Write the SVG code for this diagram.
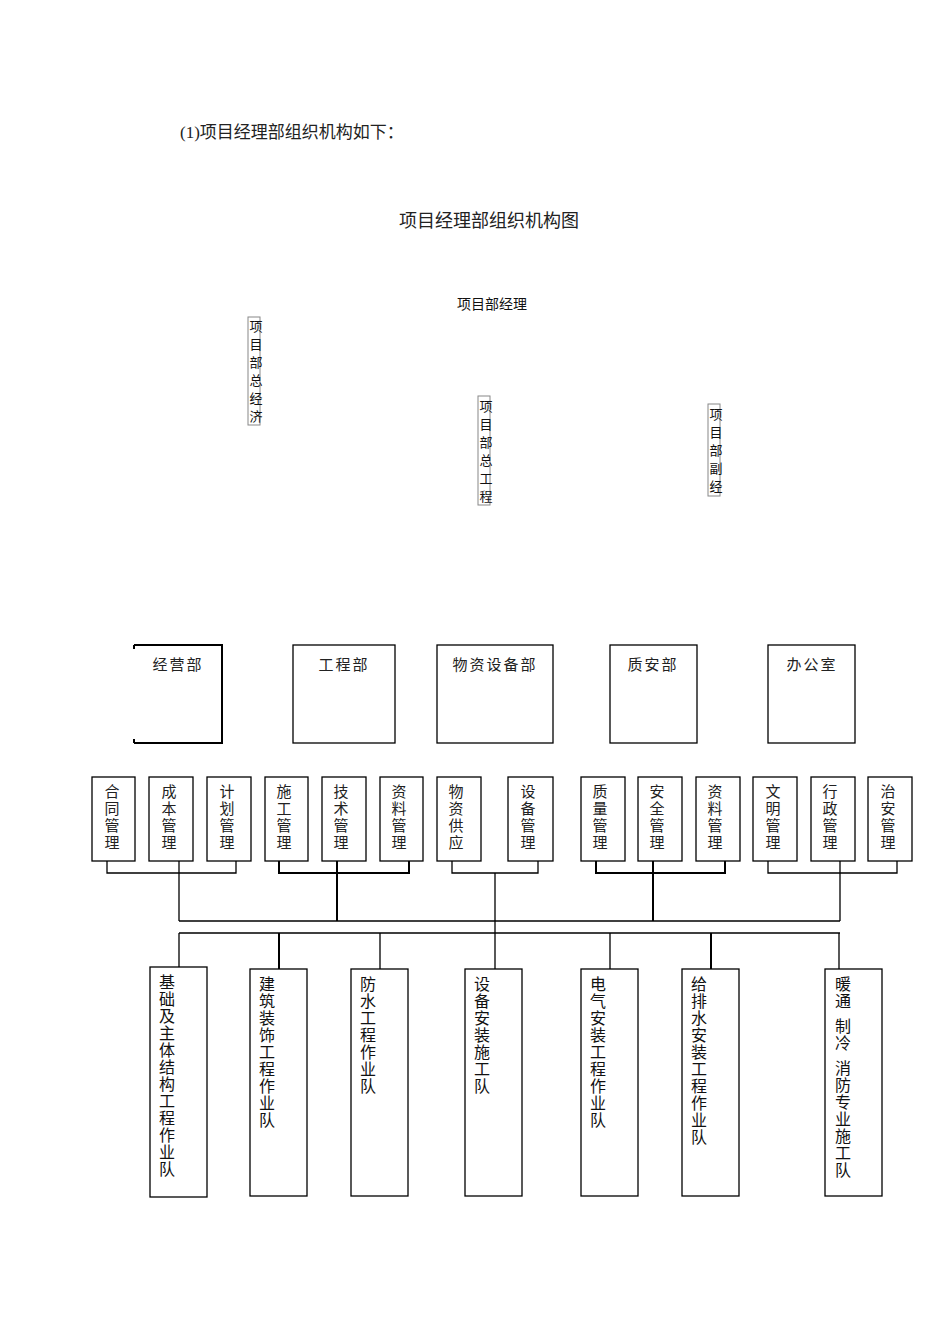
<svg xmlns="http://www.w3.org/2000/svg" width="950" height="1344" viewBox="0 0 950 1344">
<style>
.b{fill:#fff;stroke:#000;stroke-width:1.3}
.t{fill:none;stroke:#888;stroke-width:1}
.l{fill:none;stroke:#000;stroke-width:1.3}
.s{font-family:"Liberation Serif","Noto Sans CJK SC",serif;fill:#222}
.n{font-family:"Noto Sans CJK SC",sans-serif;fill:#111}
.sub{font-family:"Liberation Serif","Noto Sans CJK SC",serif;font-size:15px;fill:#222;text-anchor:middle}
.bot{font-family:"Noto Sans CJK SC",sans-serif;font-size:16px;fill:#111}
.sm{font-family:"Noto Sans CJK SC",sans-serif;font-size:13px;fill:#111;text-anchor:middle}
</style>
<rect width="950" height="1344" fill="#fff"/>
<text class="s" x="180" y="138" font-size="17">(1)项目经理部组织机构如下：</text>
<text class="s" x="489" y="227" font-size="18" text-anchor="middle">项目经理部组织机构图</text>
<text class="n" x="492" y="309" font-size="14" text-anchor="middle">项目部经理</text>

<g id="n-jingji"><rect class="t" x="248" y="317" width="12" height="108"/><text class="sm"><tspan x="256" y="331">项</tspan><tspan x="256" dy="18">目</tspan><tspan x="256" dy="18">部</tspan><tspan x="256" dy="18">总</tspan><tspan x="256" dy="18">经</tspan><tspan x="256" dy="18">济</tspan></text></g>
<g id="n-zonggong"><rect class="t" x="478" y="396" width="12" height="109"/><text class="sm"><tspan x="486" y="411">项</tspan><tspan x="486" dy="18">目</tspan><tspan x="486" dy="18">部</tspan><tspan x="486" dy="18">总</tspan><tspan x="486" dy="18">工</tspan><tspan x="486" dy="18">程</tspan></text></g>
<g id="n-fujingli"><rect class="t" x="708" y="404" width="12" height="92"/><text class="sm"><tspan x="716" y="419">项</tspan><tspan x="716" dy="18">目</tspan><tspan x="716" dy="18">部</tspan><tspan x="716" dy="18">副</tspan><tspan x="716" dy="18">经</tspan></text></g>

<g id="d-jingying"><path d="M134 645H222V743H134" fill="#fff" stroke="#000" stroke-width="2"/><path d="M134 645v4M134 743v-4" stroke="#000" stroke-width="2"/><text class="s" x="178" y="670" font-size="15" text-anchor="middle" letter-spacing="2">经营部</text></g>
<g id="d-gongcheng"><rect class="b" x="293" y="645" width="102" height="98"/><text class="s" x="344" y="670" font-size="15" text-anchor="middle" letter-spacing="2">工程部</text></g>
<g id="d-wuzi"><rect class="b" x="437" y="645" width="116" height="98"/><text class="s" x="495" y="670" font-size="15" text-anchor="middle" letter-spacing="2">物资设备部</text></g>
<g id="d-zhian"><rect class="b" x="610" y="645" width="87" height="98"/><text class="s" x="653" y="670" font-size="15" text-anchor="middle" letter-spacing="2">质安部</text></g>
<g id="d-bangong"><rect class="b" x="768" y="645" width="87" height="98" stroke-width="2"/><text class="s" x="812" y="670" font-size="15" text-anchor="middle" letter-spacing="2">办公室</text></g>

<g id="subs">
<g id="s1"><rect class="b" x="92" y="777" width="43" height="84"/><text class="sub"><tspan x="112" y="797">合</tspan><tspan x="112" dy="17">同</tspan><tspan x="112" dy="17">管</tspan><tspan x="112" dy="17">理</tspan></text></g>
<g id="s2"><rect class="b" x="149" y="777" width="44" height="84"/><text class="sub"><tspan x="169" y="797">成</tspan><tspan x="169" dy="17">本</tspan><tspan x="169" dy="17">管</tspan><tspan x="169" dy="17">理</tspan></text></g>
<g id="s3"><rect class="b" x="207" y="777" width="44" height="84"/><text class="sub"><tspan x="227" y="797">计</tspan><tspan x="227" dy="17">划</tspan><tspan x="227" dy="17">管</tspan><tspan x="227" dy="17">理</tspan></text></g>
<g id="s4"><rect class="b" x="265" y="777" width="43" height="84"/><text class="sub"><tspan x="284" y="797">施</tspan><tspan x="284" dy="17">工</tspan><tspan x="284" dy="17">管</tspan><tspan x="284" dy="17">理</tspan></text></g>
<g id="s5"><rect class="b" x="322" y="777" width="44" height="84"/><text class="sub"><tspan x="341" y="797">技</tspan><tspan x="341" dy="17">术</tspan><tspan x="341" dy="17">管</tspan><tspan x="341" dy="17">理</tspan></text></g>
<g id="s6"><rect class="b" x="380" y="777" width="43" height="84"/><text class="sub"><tspan x="399" y="797">资</tspan><tspan x="399" dy="17">料</tspan><tspan x="399" dy="17">管</tspan><tspan x="399" dy="17">理</tspan></text></g>
<g id="s7"><rect class="b" x="437" y="777" width="44" height="84"/><text class="sub"><tspan x="456" y="797">物</tspan><tspan x="456" dy="17">资</tspan><tspan x="456" dy="17">供</tspan><tspan x="456" dy="17">应</tspan></text></g>
<g id="s8"><rect class="b" x="508" y="777" width="45" height="84"/><text class="sub"><tspan x="528" y="797">设</tspan><tspan x="528" dy="17">备</tspan><tspan x="528" dy="17">管</tspan><tspan x="528" dy="17">理</tspan></text></g>
<g id="s9"><rect class="b" x="581" y="777" width="44" height="84"/><text class="sub"><tspan x="600" y="797">质</tspan><tspan x="600" dy="17">量</tspan><tspan x="600" dy="17">管</tspan><tspan x="600" dy="17">理</tspan></text></g>
<g id="s10"><rect class="b" x="638" y="777" width="44" height="84"/><text class="sub"><tspan x="657" y="797">安</tspan><tspan x="657" dy="17">全</tspan><tspan x="657" dy="17">管</tspan><tspan x="657" dy="17">理</tspan></text></g>
<g id="s11"><rect class="b" x="696" y="777" width="44" height="84"/><text class="sub"><tspan x="715" y="797">资</tspan><tspan x="715" dy="17">料</tspan><tspan x="715" dy="17">管</tspan><tspan x="715" dy="17">理</tspan></text></g>
<g id="s12"><rect class="b" x="753" y="777" width="44" height="84"/><text class="sub"><tspan x="773" y="797">文</tspan><tspan x="773" dy="17">明</tspan><tspan x="773" dy="17">管</tspan><tspan x="773" dy="17">理</tspan></text></g>
<g id="s13"><rect class="b" x="811" y="777" width="44" height="84"/><text class="sub"><tspan x="830" y="797">行</tspan><tspan x="830" dy="17">政</tspan><tspan x="830" dy="17">管</tspan><tspan x="830" dy="17">理</tspan></text></g>
<g id="s14"><rect class="b" x="868" y="777" width="44" height="84"/><text class="sub"><tspan x="888" y="797">治</tspan><tspan x="888" dy="17">安</tspan><tspan x="888" dy="17">管</tspan><tspan x="888" dy="17">理</tspan></text></g>
</g>

<g id="teams">
<g id="t1"><rect class="b" x="150" y="967" width="57" height="230"/><text class="bot"><tspan x="159" y="988">基</tspan><tspan x="159" dy="17">础</tspan><tspan x="159" dy="17">及</tspan><tspan x="159" dy="17">主</tspan><tspan x="159" dy="17">体</tspan><tspan x="159" dy="17">结</tspan><tspan x="159" dy="17">构</tspan><tspan x="159" dy="17">工</tspan><tspan x="159" dy="17">程</tspan><tspan x="159" dy="17">作</tspan><tspan x="159" dy="17">业</tspan><tspan x="159" dy="17">队</tspan></text></g>
<g id="t2"><rect class="b" x="250" y="969" width="57" height="227"/><text class="bot"><tspan x="259" y="990">建</tspan><tspan x="259" dy="17">筑</tspan><tspan x="259" dy="17">装</tspan><tspan x="259" dy="17">饰</tspan><tspan x="259" dy="17">工</tspan><tspan x="259" dy="17">程</tspan><tspan x="259" dy="17">作</tspan><tspan x="259" dy="17">业</tspan><tspan x="259" dy="17">队</tspan></text></g>
<g id="t3"><rect class="b" x="351" y="969" width="57" height="227"/><text class="bot"><tspan x="360" y="990">防</tspan><tspan x="360" dy="17">水</tspan><tspan x="360" dy="17">工</tspan><tspan x="360" dy="17">程</tspan><tspan x="360" dy="17">作</tspan><tspan x="360" dy="17">业</tspan><tspan x="360" dy="17">队</tspan></text></g>
<g id="t4"><rect class="b" x="465" y="969" width="57" height="227"/><text class="bot"><tspan x="474" y="990">设</tspan><tspan x="474" dy="17">备</tspan><tspan x="474" dy="17">安</tspan><tspan x="474" dy="17">装</tspan><tspan x="474" dy="17">施</tspan><tspan x="474" dy="17">工</tspan><tspan x="474" dy="17">队</tspan></text></g>
<g id="t5"><rect class="b" x="581" y="969" width="57" height="227"/><text class="bot"><tspan x="590" y="990">电</tspan><tspan x="590" dy="17">气</tspan><tspan x="590" dy="17">安</tspan><tspan x="590" dy="17">装</tspan><tspan x="590" dy="17">工</tspan><tspan x="590" dy="17">程</tspan><tspan x="590" dy="17">作</tspan><tspan x="590" dy="17">业</tspan><tspan x="590" dy="17">队</tspan></text></g>
<g id="t6"><rect class="b" x="682" y="969" width="57" height="227"/><text class="bot"><tspan x="691" y="990">给</tspan><tspan x="691" dy="17">排</tspan><tspan x="691" dy="17">水</tspan><tspan x="691" dy="17">安</tspan><tspan x="691" dy="17">装</tspan><tspan x="691" dy="17">工</tspan><tspan x="691" dy="17">程</tspan><tspan x="691" dy="17">作</tspan><tspan x="691" dy="17">业</tspan><tspan x="691" dy="17">队</tspan></text></g>
<g id="t7"><rect class="b" x="825" y="969" width="57" height="227"/><text class="bot"><tspan x="835" y="990">暖</tspan><tspan x="835" dy="17">通</tspan><tspan x="835" dy="25">制</tspan><tspan x="835" dy="17">冷</tspan><tspan x="835" dy="25">消</tspan><tspan x="835" dy="17">防</tspan><tspan x="835" dy="17">专</tspan><tspan x="835" dy="17">业</tspan><tspan x="835" dy="17">施</tspan><tspan x="835" dy="17">工</tspan><tspan x="835" dy="17">队</tspan></text></g>
</g>

<g id="connectors" class="l">
<path d="M107 861V873H236V861M179 861V921"/>
<path d="M279 861V873H409V861M337 861V921" stroke-width="2"/>
<path d="M452 861V873H538V861M495 873V969"/>
<path d="M596 861V873H725V861M653 861V921" stroke-width="2"/>
<path d="M768 861V873H897V861M840 861V921"/>
<path d="M179 921H840"/>
<path d="M179 933H840M179 933V967M279 933V969M380 933V969M610 933V969M711 933V969M839 933V969"/>
<path d="M279 933V969M711 933V969" stroke-width="2"/>
</g>
</svg>
